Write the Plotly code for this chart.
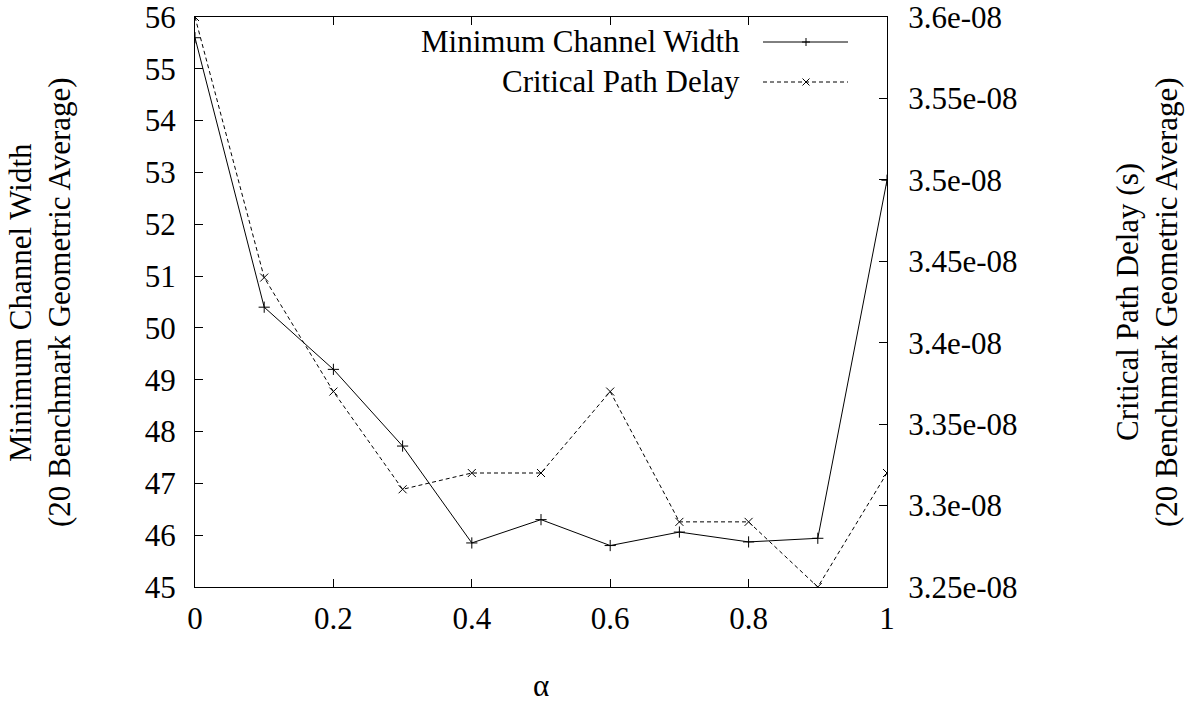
import plotly.graph_objects as go

# alpha sweep
alpha = [0.0, 0.1, 0.2, 0.3, 0.4, 0.5, 0.6, 0.7, 0.8, 0.9, 1.0]
# geometric averages over 20 benchmarks
min_channel_width = [55.6, 50.4, 49.2, 47.72, 45.85, 46.3, 45.8, 46.06, 45.87, 45.94, 52.85]
critical_path_delay = [3.60e-08, 3.44e-08, 3.37e-08, 3.31e-08, 3.32e-08, 3.32e-08,
                       3.37e-08, 3.29e-08, 3.29e-08, 3.25e-08, 3.32e-08]

x_ticks = [0, 0.2, 0.4, 0.6, 0.8, 1]
x_tick_text = ["0", "0.2", "0.4", "0.6", "0.8", "1"]
y1_ticks = list(range(45, 57))
y2_ticks = [3.25e-08, 3.30e-08, 3.35e-08, 3.40e-08, 3.45e-08, 3.50e-08, 3.55e-08, 3.60e-08]
y2_tick_text = ["3.25e-08", "3.3e-08", "3.35e-08", "3.4e-08", "3.45e-08", "3.5e-08", "3.55e-08", "3.6e-08"]

FONT = "Liberation Serif"
FS = 31

fig = go.Figure()
fig.add_trace(go.Scatter(
    x=alpha, y=min_channel_width, mode="lines+markers", name="Minimum Channel Width",
    line=dict(color="black", width=1),
    marker=dict(symbol="cross-thin-open", size=8, line=dict(color="black", width=1)),
    showlegend=False, yaxis="y"))
fig.add_trace(go.Scatter(
    x=alpha, y=critical_path_delay, mode="lines+markers", name="Critical Path Delay",
    line=dict(color="black", width=1, dash="4px,3px"),
    marker=dict(symbol="x-thin-open", size=8, line=dict(color="black", width=1)),
    showlegend=False, yaxis="y2"))

L, R, T, B = 195, 304, 17, 117
W, H = 1191, 704
pw, ph = W - L - R, H - T - B


def px_to_paper_x(px):
    return (px - L) / pw


def px_to_paper_y(py):
    return (H - B - py) / ph


shapes = []
annotations = []

# legend: right-aligned labels, sample line and marker on the right
legend_items = [("Minimum Channel Width", 42, "solid", "+"),
                ("Critical Path Delay", 82, "4px,3px", "x")]
for label, ypx, dash, sym in legend_items:
    yp = px_to_paper_y(ypx)
    annotations.append(dict(text=label, x=px_to_paper_x(742), y=px_to_paper_y(ypx - 1),
                            xref="paper", yref="paper",
                            xanchor="right", yanchor="middle", showarrow=False,
                            font=dict(family=FONT, size=FS, color="black")))
    shapes.append(dict(type="line", xref="paper", yref="paper",
                       x0=px_to_paper_x(763), x1=px_to_paper_x(848), y0=yp, y1=yp,
                       line=dict(color="black", width=1, dash=dash)))
    cx, d = 806, 4
    if sym == "+":
        segs = [((cx - d, ypx), (cx + d, ypx)), ((cx, ypx - d), (cx, ypx + d))]
    else:
        d = 3.5
        segs = [((cx - d, ypx - d), (cx + d, ypx + d)), ((cx - d, ypx + d), (cx + d, ypx - d))]
    for (ax, ay), (bx, by) in segs:
        shapes.append(dict(type="line", xref="paper", yref="paper",
                           x0=px_to_paper_x(ax), y0=px_to_paper_y(ay),
                           x1=px_to_paper_x(bx), y1=px_to_paper_y(by),
                           line=dict(color="black", width=1)))

# axis titles
for text, xpx in [("Minimum Channel Width", 20), ("(20 Benchmark Geometric Average)", 59),
                  ("Critical Path Delay (s)", 1127), ("(20 Benchmark Geometric Average)", 1166)]:
    annotations.append(dict(text=text, x=px_to_paper_x(xpx), y=px_to_paper_y(302),
                            xref="paper", yref="paper", xanchor="center", yanchor="middle",
                            textangle=-90, showarrow=False,
                            font=dict(family=FONT, size=FS, color="black")))
annotations.append(dict(text="α", x=px_to_paper_x(541), y=px_to_paper_y(685),
                        xref="paper", yref="paper", xanchor="center", yanchor="middle",
                        showarrow=False, font=dict(family=FONT, size=FS, color="black")))

axis_common = dict(showgrid=False, zeroline=False, showline=True, linecolor="black", linewidth=1,
                   ticks="inside", ticklen=8, tickcolor="black", tickwidth=1, automargin=False,
                   ticklabeloverflow="allow",
                   tickfont=dict(family=FONT, size=FS, color="black"))

fig.update_layout(
    width=W, height=H,
    margin=dict(l=L, r=R, t=T, b=B),
    paper_bgcolor="white", plot_bgcolor="white",
    xaxis=dict(range=[0, 1], tickvals=x_ticks, ticktext=x_tick_text, mirror="ticks",
               ticklabelstandoff=4, **axis_common),
    yaxis=dict(range=[45, 56], tickvals=y1_ticks, ticklabelstandoff=12, **axis_common),
    yaxis2=dict(range=[3.25e-08, 3.60e-08], tickvals=y2_ticks, ticktext=y2_tick_text,
                overlaying="y", side="right", ticklabelstandoff=14, **axis_common),
    shapes=shapes, annotations=annotations,
)

fig.write_html("out.html")
